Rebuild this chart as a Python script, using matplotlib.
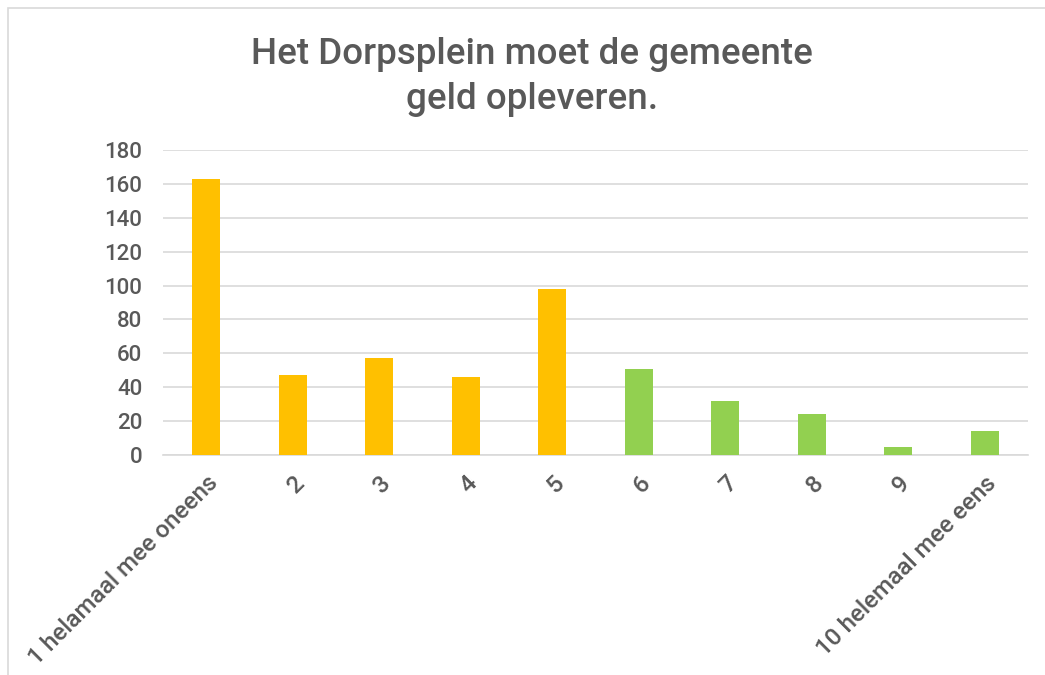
import matplotlib
matplotlib.use("Agg")
import matplotlib.pyplot as plt

categories = ["1 helamaal mee oneens", "2", "3", "4", "5", "6", "7", "8", "9", "10 helemaal mee eens"]
values = [163, 47, 57, 46, 98, 51, 32, 24, 5, 14]
colors = ["#FFC000"] * 5 + ["#92D050"] * 5
title = "Het Dorpsplein moet de gemeente\ngeld opleveren."
yticks = list(range(0, 181, 20))

plt.rcParams['font.family'] = ['Roboto', 'DejaVu Sans']
fig = plt.figure(figsize=(10.45, 6.75), dpi=100)
ax = fig.add_axes([163/1045, 1 - 455/675, (1028-163)/1045, (455-150)/675])

x = list(range(len(categories)))
ax.bar(x, values, width=0.32, color=colors, zorder=3)
ax.set_xlim(-0.5, len(categories) - 0.5)
ax.set_ylim(0, 180)
ax.set_yticks(yticks)
ax.yaxis.grid(True, color="#D9D9D9", linewidth=1.2, zorder=0)
ax.set_axisbelow(True)
for s in ["top", "right", "left"]:
    ax.spines[s].set_visible(False)
ax.spines["bottom"].set_color("#D9D9D9")
ax.spines["bottom"].set_linewidth(1.2)
ax.tick_params(axis="both", length=0, colors="#595959", labelsize=16)
ax.tick_params(axis="y", pad=15)
ax.set_xticks(x)
ax.set_xticklabels(categories, rotation=45, ha="right", rotation_mode="anchor",
                   fontsize=17.5, color="#595959", fontweight="medium")
for lbl in ax.get_yticklabels():
    lbl.set_fontweight("medium")
ax.tick_params(axis="x", pad=12)

fig.text(532/1045, 1 - 77/675, title, ha="center", va="center", fontsize=26.5,
         color="#595959", fontweight="medium", linespacing=1.38)

# chart border
fig.patches.append(plt.Rectangle((8/1045, -0.1), 1.2, 1 - 8/675 + 0.1, transform=fig.transFigure,
                                 fill=False, edgecolor="#D9D9D9", linewidth=1.2))

fig.savefig("out.png", dpi=100)
